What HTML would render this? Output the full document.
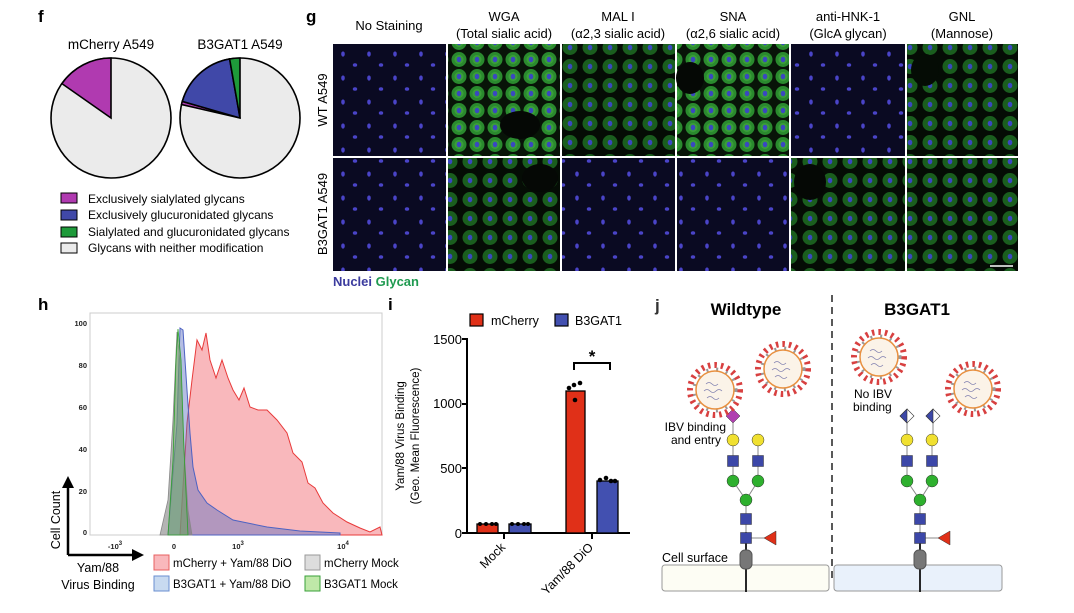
<!DOCTYPE html>
<html><head><meta charset="utf-8"><style>
html,body{margin:0;padding:0;background:#fff;}
svg{display:block;font-family:"Liberation Sans",Arial,sans-serif;}
</style></head><body>
<svg width="1074" height="613" viewBox="0 0 1074 613" xmlns="http://www.w3.org/2000/svg">
<defs>
 <pattern id="nuc" width="26" height="24" patternUnits="userSpaceOnUse">
  <rect width="26" height="24" fill="#0a0a22"/>
  <ellipse cx="5" cy="6" rx="1.8" ry="2.6" fill="#4a44c8"/>
  <ellipse cx="17" cy="17" rx="2.2" ry="1.8" fill="#4a44c8"/>
 </pattern>
 <pattern id="grn" width="18" height="17" patternUnits="userSpaceOnUse">
  <rect width="18" height="17" fill="#081408"/>
  <circle cx="9" cy="8.5" r="7.5" fill="#2a8a2e"/>
  <circle cx="9" cy="8.5" r="4.5" fill="#3a9e38"/>
  <ellipse cx="9" cy="8.5" rx="2.3" ry="2.8" fill="#3a48c0"/>
 </pattern>
 <pattern id="grnd" width="20" height="19" patternUnits="userSpaceOnUse">
  <rect width="20" height="19" fill="#050c05"/>
  <circle cx="10" cy="9.5" r="7.5" fill="#1a5e1e"/>
  <ellipse cx="10" cy="9.5" rx="2.3" ry="2.8" fill="#3a48c0"/>
 </pattern>
 <g id="vir">
  <circle cx="0" cy="0" r="25" fill="none" stroke="#d84040" stroke-width="6" stroke-dasharray="2.5,4"/>
  <circle cx="0" cy="0" r="21" fill="none" stroke="#999" stroke-width="3" stroke-dasharray="2,8"/>
  <circle cx="0" cy="0" r="19" fill="#fbf3e8" stroke="#e89040" stroke-width="1.5"/>
  <path d="M-9,-6 q3,-3 6,0 t6,0 M-11,1 q3,-3 6,0 t6,0 t6,0 M-8,8 q3,-3 6,0 t6,0" fill="none" stroke="#8080b0" stroke-width="0.8"/>
 </g>
</defs>

<!-- Panel f -->
<text x="38" y="22" font-size="17" font-weight="bold">f</text>
<text x="111" y="49" font-size="13.5" text-anchor="middle">mCherry A549</text>
<text x="240" y="49" font-size="13.5" text-anchor="middle">B3GAT1 A549</text>
<g stroke="#000" stroke-width="1.6">
 <circle cx="111" cy="118" r="60" fill="#ebebeb"/>
 <path d="M111,118 L61.9,83.6 A60,60 0 0 1 111,58 Z" fill="#b03ab0"/>
 <circle cx="240" cy="118" r="60" fill="#ebebeb"/>
 <path d="M240,118 L181.5,104.5 A60,60 0 0 1 182.3,101.4 Z" fill="#b03ab0"/>
 <path d="M240,118 L182.3,101.4 A60,60 0 0 1 229.6,58.9 Z" fill="#4048a8"/>
 <path d="M240,118 L229.6,58.9 A60,60 0 0 1 240,58 Z" fill="#1e9a3a"/>
</g>
<g stroke="#000" stroke-width="1">
 <rect x="61" y="193" width="16" height="10" fill="#b03ab0"/>
 <rect x="61" y="210" width="16" height="10" fill="#4048a8"/>
 <rect x="61" y="227" width="16" height="10" fill="#1e9a3a"/>
 <rect x="61" y="243" width="16" height="10" fill="#ebebeb"/>
</g>
<g font-size="12">
 <text x="88" y="203">Exclusively sialylated glycans</text>
 <text x="88" y="219">Exclusively glucuronidated glycans</text>
 <text x="88" y="236">Sialylated and glucuronidated glycans</text>
 <text x="88" y="252">Glycans with neither modification</text>
</g>

<!-- Panel g -->
<text x="306" y="22" font-size="17" font-weight="bold">g</text>
<g font-size="13" text-anchor="middle">
 <text x="389" y="30">No Staining</text>
 <text x="504" y="21">WGA</text><text x="504" y="38">(Total sialic acid)</text>
 <text x="618" y="21">MAL I</text><text x="618" y="38">(α2,3 sialic acid)</text>
 <text x="733" y="21">SNA</text><text x="733" y="38">(α2,6 sialic acid)</text>
 <text x="848" y="21">anti-HNK-1</text><text x="848" y="38">(GlcA glycan)</text>
 <text x="962" y="21">GNL</text><text x="962" y="38">(Mannose)</text>
</g>
<text transform="translate(327,100) rotate(-90)" font-size="13" text-anchor="middle">WT A549</text>
<text transform="translate(327,214) rotate(-90)" font-size="13" text-anchor="middle">B3GAT1 A549</text>
<rect x="333" y="44" width="113" height="112" fill="url(#nuc)"/>
<rect x="448" y="44" width="112" height="112" fill="url(#grn)"/>
<ellipse cx="520" cy="125" rx="20" ry="14" fill="#050805"/>
<rect x="562" y="44" width="113" height="112" fill="url(#grnd)"/>
<rect x="677" y="44" width="112" height="112" fill="url(#grn)"/>
<ellipse cx="690" cy="78" rx="14" ry="16" fill="#050805"/>
<rect x="791" y="44" width="114" height="112" fill="url(#nuc)"/>
<rect x="907" y="44" width="111" height="112" fill="url(#grnd)"/>
<ellipse cx="925" cy="70" rx="14" ry="16" fill="#050c05"/>
<rect x="333" y="158" width="113" height="113" fill="url(#nuc)"/>
<rect x="448" y="158" width="112" height="113" fill="url(#grnd)"/>
<ellipse cx="540" cy="178" rx="18" ry="14" fill="#050805"/>
<rect x="562" y="158" width="113" height="113" fill="url(#nuc)"/>
<rect x="677" y="158" width="112" height="113" fill="url(#nuc)"/>
<rect x="791" y="158" width="114" height="113" fill="url(#grnd)"/>
<ellipse cx="810" cy="182" rx="16" ry="18" fill="#050805"/>
<rect x="907" y="158" width="111" height="113" fill="url(#grnd)"/>
<line x1="990" y1="266" x2="1013" y2="266" stroke="#fff" stroke-width="1.5"/>
<text x="333" y="286" font-size="13" font-weight="bold" fill="#3b3b9e">Nuclei <tspan fill="#1f9a50">Glycan</tspan></text>

<!-- Panel h -->
<text x="38" y="310" font-size="17" font-weight="bold">h</text>
<rect x="90" y="313" width="292" height="222" fill="#fff" stroke="#ccc"/>
<g font-size="7.5" font-weight="bold" text-anchor="end" fill="#222">
 <text x="87" y="326">100</text><text x="87" y="368">80</text><text x="87" y="410">60</text>
 <text x="87" y="452">40</text><text x="87" y="494">20</text><text x="87" y="535">0</text>
</g>
<g font-size="7.5" font-weight="bold" text-anchor="middle" fill="#222">
 <text x="115" y="549">-10<tspan dy="-4" font-size="6">3</tspan></text>
 <text x="174" y="549">0</text>
 <text x="238" y="549">10<tspan dy="-4" font-size="6">3</tspan></text>
 <text x="343" y="549">10<tspan dy="-4" font-size="6">4</tspan></text>
</g>
<path d="M180,535 L187,423 L192,380 L197,340 L202,350 L206,333 L210,360 L216,378 L222,360 L228,378 L233,390 L239,400 L244,388 L250,407 L258,410 L267,410 L277,420 L287,433 L293,453 L302,462 L308,483 L315,488 L323,503 L333,513 L347,522 L360,528 L370,532 L380,527 L382,535 Z" fill="#f9b8bc" stroke="#e83a3a" stroke-width="1"/>
<path d="M168,535 L177,423 L180,328 L183,330 L187,390 L190,433 L193,467 L198,490 L207,503 L217,510 L233,520 L267,527 L300,531 L340,533 L340,535 Z" fill="#5a6fc0" fill-opacity="0.45" stroke="#4d62c2" stroke-width="1"/>
<path d="M160,535 L168,500 L173,420 L177,332 L180,360 L184,450 L188,510 L192,535 Z" fill="#777" fill-opacity="0.55" stroke="#888" stroke-width="0.8"/>
<path d="M168,535 L173,460 L176,360 L178,329 L181,360 L184,450 L188,535 Z" fill="#6cc060" fill-opacity="0.35" stroke="#2ea02e" stroke-width="0.8"/>
<line x1="68" y1="555" x2="68" y2="486" stroke="#000" stroke-width="2.5"/>
<path d="M62,488 L68,476 L74,488 Z" fill="#000"/>
<line x1="68" y1="555" x2="134" y2="555" stroke="#000" stroke-width="2.5"/>
<path d="M132,549 L144,555 L132,561 Z" fill="#000"/>
<text transform="translate(60,520) rotate(-90)" font-size="12.5" text-anchor="middle">Cell Count</text>
<text x="98" y="572" font-size="12.5" text-anchor="middle">Yam/88</text>
<text x="98" y="589" font-size="12.5" text-anchor="middle">Virus Binding</text>
<rect x="154" y="555" width="15" height="15" fill="#f9b8bc" stroke="#e86060"/>
<rect x="154" y="576" width="15" height="15" fill="#c8daf0" stroke="#6a8fd0"/>
<rect x="305" y="555" width="15" height="15" fill="#ddd" stroke="#999"/>
<rect x="305" y="576" width="15" height="15" fill="#bfe8a8" stroke="#3aa03a"/>
<g font-size="11.5">
 <text x="173" y="567">mCherry + Yam/88 DiO</text>
 <text x="173" y="588">B3GAT1 + Yam/88 DiO</text>
 <text x="324" y="567">mCherry Mock</text>
 <text x="324" y="588">B3GAT1 Mock</text>
</g>

<!-- Panel i -->
<text x="388" y="310" font-size="17" font-weight="bold">i</text>
<rect x="470" y="314" width="13" height="12" fill="#e03018" stroke="#000" stroke-width="1.2"/>
<text x="491" y="325" font-size="12.5">mCherry</text>
<rect x="555" y="314" width="13" height="12" fill="#4250b0" stroke="#000" stroke-width="1.2"/>
<text x="575" y="325" font-size="12.5">B3GAT1</text>
<text transform="translate(404,436) rotate(-90)" font-size="11.5" text-anchor="middle">Yam/88 Virus Binding</text>
<text transform="translate(419,436) rotate(-90)" font-size="11.5" text-anchor="middle">(Geo. Mean Fluorescence)</text>
<g font-size="13" text-anchor="end">
 <text x="462" y="344">1500</text><text x="462" y="408">1000</text>
 <text x="462" y="473">500</text><text x="462" y="538">0</text>
</g>
<g stroke="#000" stroke-width="2">
 <line x1="467" y1="338" x2="467" y2="534"/>
 <line x1="462" y1="339" x2="467" y2="339"/><line x1="462" y1="404" x2="467" y2="404"/>
 <line x1="462" y1="468" x2="467" y2="468"/><line x1="462" y1="533" x2="467" y2="533"/>
 <line x1="466" y1="533" x2="630" y2="533"/>
 <line x1="504" y1="533" x2="504" y2="539"/><line x1="592" y1="533" x2="592" y2="539"/>
</g>
<g stroke="#000" stroke-width="1.3">
 <rect x="477" y="524" width="21" height="9" fill="#e03018"/>
 <rect x="509" y="524" width="22" height="9" fill="#4250b0"/>
 <rect x="566" y="391" width="19" height="142" fill="#e03018"/>
 <rect x="597" y="481" width="21" height="52" fill="#4250b0"/>
</g>
<g fill="#000">
 <circle cx="480" cy="524" r="2"/><circle cx="486" cy="524" r="2"/><circle cx="492" cy="524" r="2"/><circle cx="496" cy="524" r="2"/>
 <circle cx="512" cy="524" r="2"/><circle cx="518" cy="524" r="2"/><circle cx="524" cy="524" r="2"/><circle cx="528" cy="524" r="2"/>
 <circle cx="569" cy="388" r="2.3"/><circle cx="574" cy="385" r="2.3"/><circle cx="580" cy="383" r="2.3"/><circle cx="575" cy="400" r="2.3"/>
 <circle cx="600" cy="480" r="2.3"/><circle cx="606" cy="478" r="2.3"/><circle cx="611" cy="481" r="2.3"/><circle cx="615" cy="481" r="2.3"/>
</g>
<path d="M574,370 L574,363 L610,363 L610,370" fill="none" stroke="#000" stroke-width="2"/>
<text x="592" y="362" font-size="17" font-weight="bold" text-anchor="middle">*</text>
<text transform="translate(506,548) rotate(-45)" font-size="12.5" text-anchor="end">Mock</text>
<text transform="translate(594,548) rotate(-45)" font-size="12.5" text-anchor="end">Yam/88 DiO</text>

<!-- Panel j -->
<text x="655" y="311" font-size="17" font-weight="bold" fill="#333">j</text>
<text x="746" y="315" font-size="17" font-weight="bold" text-anchor="middle">Wildtype</text>
<text x="917" y="315" font-size="17" font-weight="bold" text-anchor="middle">B3GAT1</text>
<line x1="832" y1="295" x2="832" y2="582" stroke="#222" stroke-width="1.5" stroke-dasharray="7,5"/>
<rect x="662" y="565" width="167" height="26" rx="3" fill="#fdfdf4" stroke="#999"/>
<rect x="834" y="565" width="168" height="26" rx="3" fill="#e9f1fb" stroke="#999"/>
<text x="662" y="562" font-size="12.5">Cell surface</text>
<g id="glyL">
 <line x1="746" y1="532" x2="746" y2="592" stroke="#111" stroke-width="1.8"/>
 <line x1="746" y1="538" x2="770" y2="538" stroke="#888"/>
 <line x1="746" y1="500" x2="733" y2="481" stroke="#888"/><line x1="746" y1="500" x2="758" y2="481" stroke="#888"/>
 <line x1="746" y1="500" x2="746" y2="538" stroke="#888"/>
 <line x1="733" y1="440" x2="733" y2="481" stroke="#888"/><line x1="758" y1="440" x2="758" y2="481" stroke="#888"/>
 <rect x="740" y="550" width="12" height="19" rx="5" fill="#777" stroke="#555"/>
 <rect x="740.5" y="532.5" width="11" height="11" fill="#3c47a8" stroke="#333" stroke-width="0.5"/>
 <rect x="740.5" y="513.5" width="11" height="11" fill="#3c47a8" stroke="#333" stroke-width="0.5"/>
 <path d="M764,538 L776,531 L776,545 Z" fill="#e03018" stroke="#333" stroke-width="0.5"/>
 <circle cx="746" cy="500" r="6" fill="#2eb02e" stroke="#333" stroke-width="0.5"/>
 <circle cx="733" cy="481" r="6" fill="#2eb02e" stroke="#333" stroke-width="0.5"/>
 <circle cx="758" cy="481" r="6" fill="#2eb02e" stroke="#333" stroke-width="0.5"/>
 <rect x="727.5" y="455.5" width="11" height="11" fill="#3c47a8" stroke="#333" stroke-width="0.5"/>
 <rect x="752.5" y="455.5" width="11" height="11" fill="#3c47a8" stroke="#333" stroke-width="0.5"/>
 <circle cx="733" cy="440" r="6" fill="#f0e030" stroke="#333" stroke-width="0.5"/>
 <circle cx="758" cy="440" r="6" fill="#f0e030" stroke="#333" stroke-width="0.5"/>
</g>
<line x1="733" y1="416" x2="733" y2="434" stroke="#888"/>
<path d="M733,409 L740,416 L733,423 L726,416 Z" fill="#b040b0" stroke="#333" stroke-width="0.5"/>
<use href="#glyL" transform="translate(174,0)"/>
<line x1="907" y1="416" x2="907" y2="434" stroke="#888"/><line x1="933" y1="416" x2="933" y2="434" stroke="#888"/>
<g stroke="#333" stroke-width="0.6">
 <path d="M907,409 L914,416 L907,423 L900,416 Z" fill="#fff"/><path d="M907,409 L907,423 L900,416 Z" fill="#3c47a8"/>
 <path d="M933,409 L940,416 L933,423 L926,416 Z" fill="#fff"/><path d="M933,409 L933,423 L926,416 Z" fill="#3c47a8"/>
</g>
<text x="726" y="431" font-size="12" text-anchor="end">IBV binding</text>
<text x="721" y="444" font-size="12" text-anchor="end">and entry</text>
<text x="854" y="398" font-size="12">No IBV</text>
<text x="853" y="411" font-size="12">binding</text>
<use href="#vir" transform="translate(715,390)"/>
<use href="#vir" transform="translate(783,369)"/>
<use href="#vir" transform="translate(879,357)"/>
<use href="#vir" transform="translate(973,389)"/>
</svg>
</body></html>
